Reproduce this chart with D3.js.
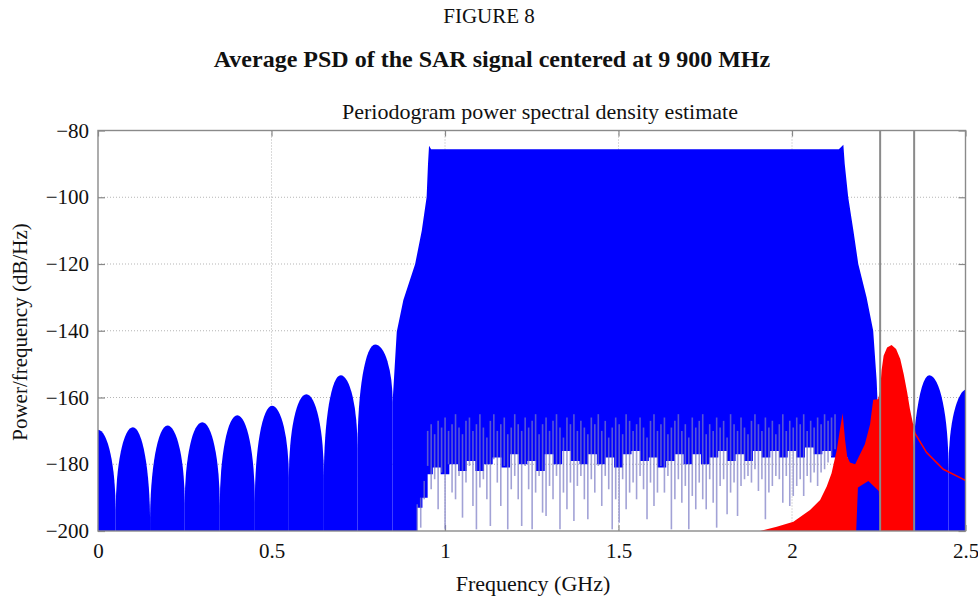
<!DOCTYPE html>
<html>
<head>
<meta charset="utf-8">
<script src="https://cdn.jsdelivr.net/npm/d3@7"></script>
<style>
  body { margin: 0; background: #fff; }
  text { font-family: "Liberation Serif", "Times New Roman", serif; fill: #111; }
</style>
</head>
<body>
<svg id="chart" width="978" height="599"></svg>
<script>
// axis ticks
const freqTicks = [0, 0.5, 1, 1.5, 2, 2.5]
const dbTicks = [-200, -180, -160, -140, -120, -100, -80]

// sidelobes left of the main band (null freqs, null depths, peak levels)
const lobeNullF = [-0.051, 0.051, 0.150, 0.250, 0.351, 0.452, 0.550, 0.651, 0.748, 0.849]
const lobeNullDb = [-194, -194.2, -197.5, -191.7, -192.4, -191.2, -184, -183.7, -175.2, -161.3]
const lobePeakDb = [-169.7, -168.9, -168.4, -167.4, -165.3, -162.5, -159, -153.3, -144.1]

// sidelobes right of the band
const rLobeNullF = [2.340, 2.451, 2.560]
const rLobeNullDb = [-200, -181.2, -186]
const rLobePeakDb = [-153.3, -157.5]

// main band outline (upper edge)
const mainF = [0.849, 0.855, 0.861, 0.880, 0.914, 0.933, 0.947, 0.951, 0.954, 0.960, 2.135, 2.148, 2.152, 2.162, 2.177, 2.191, 2.215, 2.234, 2.244, 2.249, 2.256]
const mainDb = [-161.3, -150.8, -140.3, -130.8, -120, -110, -100, -90, -84.6, -85.6, -85.6, -84.3, -90, -100, -110, -120, -130, -140, -155, -167.7, -200]

// lower edge of the solid blue in the band
const floorF = [0.849, 0.915, 0.925, 0.945, 0.955, 0.975,
  1.0, 1.025, 1.05, 1.075, 1.1, 1.125, 1.15, 1.175, 1.2, 1.225,
  1.25, 1.275, 1.3, 1.325, 1.35, 1.375, 1.4, 1.425, 1.45, 1.475,
  1.5, 1.525, 1.55, 1.575, 1.6, 1.625, 1.65, 1.675, 1.7, 1.725,
  1.75, 1.775, 1.8, 1.825, 1.85, 1.875, 1.9, 1.925, 1.95, 1.975,
  2.0, 2.025, 2.05, 2.075, 2.1, 2.125, 2.15, 2.17, 2.18, 2.256]
const floorDb = [-200, -200, -193, -190, -183, -181,
  -183, -180, -182, -179, -182, -180, -178, -181, -177, -180,
  -179, -182, -177, -180, -176, -179, -180, -177, -180, -178,
  -181, -177, -176, -179, -178, -181, -179, -177, -180, -177,
  -180, -178, -176, -179, -177, -179, -176, -178, -176, -178,
  -176, -178, -175, -177, -176, -178, -178, -180, -200, -200]

// noise spikes under the band: first and last spike freq, top and bottom of each
const spikeRange = [0.920, 2.124]
const spikeTop = [
  -192, -190, -185, -170, -168, -171, -167, -169, -166, -170, -168, -165, -169, -171, -167, -166, -170, -168, -165, -169,
  -172, -167, -165, -170, -168, -166, -171, -169, -165, -168, -170, -166, -169, -167, -165, -171, -168, -166, -170, -167,
  -165, -169, -172, -166, -168, -165, -170, -167, -169, -171, -166, -168, -165, -170, -167, -172, -169, -166, -168, -171,
  -165, -167, -170, -168, -166, -169, -172, -167, -165, -170, -168, -166, -171, -169, -167, -165, -170, -168, -172, -166,
  -169, -167, -165, -171, -168, -170, -166, -169, -167, -172, -165, -168, -170, -166, -169, -171, -167, -165, -168, -170,
  -166, -169, -167, -171, -168, -165, -170, -167, -169, -166, -168, -165, -170, -167, -169, -166, -168, -165, -167, -166, -165
]
const spikeDb = [
  -200, -199, -190.5, -180.5, -187.5, -184.5, -193.5, -182.5, -199.5, -180, -188.5, -190.5, -183.5, -196, -185.5, -180.5, -192.5, -199.5, -187, -184.5,
  -190.5, -198.5, -178.5, -185.5, -192.5, -180.5, -199.5, -187.5, -183.5, -190.5, -198.5, -180.5, -187.5, -199.5,
  -188.5, -183.5, -194.5, -195.5, -186.5, -190.5, -183.5, -199.5, -188.5, -193.5, -185.5, -197, -186.5, -183.5, -190.5, -196.5,
  -184.5, -188.5, -180.5, -192.5, -183.5, -187.5, -199.5, -190.5, -197.5, -184.5, -193.5, -188.5, -185.5, -190.5, -183.5, -187.5,
  -196.5, -185.5, -192.5, -188.5, -180.5,
  -188.5, -183.5, -199.5, -190.5, -184.5, -191.5, -186.5, -199.5, -189.5, -193.5, -185.5, -190.5, -193.5, -184.5, -191.5, -199,
  -186.5, -184.5, -195, -188.5, -185.5, -195.5, -186.5, -184.5, -183.5, -185.5, -181.5, -188, -184.5, -196.5, -188.5, -186.5, -183.5,
  -184.5, -191.5, -183.5, -192.5, -189.5, -186.5, -184.5, -189.5, -183.5, -185.5, -182.5, -186.5, -182.5, -181.5, -179.5, -177.5, -175.5
]

// red signal (upper edge, lower edge, then the thin tail)
const redF = [1.908, 1.956, 2.004, 2.052, 2.081, 2.100, 2.114, 2.129, 2.138, 2.146, 2.153, 2.159, 2.167, 2.182, 2.196, 2.210, 2.225, 2.234, 2.248, 2.254, 2.258, 2.264, 2.274, 2.287, 2.300, 2.312, 2.322, 2.332, 2.340, 2.349]
const redDb = [-200, -198.7, -197.2, -193.7, -190.7, -186.7, -182.7, -175.7, -169.7, -164.7, -172.7, -177.7, -179.5, -180, -177, -174, -168, -160.7, -160.5, -158, -152, -147.5, -145, -144.3, -145.5, -148.5, -153, -158.5, -163.5, -168]
const redBotF = [2.349, 2.255, 2.250, 2.220, 2.190, 2.185, 1.908]
const redBotDb = [-200, -200, -188, -185, -187, -200, -200]
const tailF = [2.349, 2.354, 2.388, 2.436, 2.484, 2.501]
const tailDb = [-168, -170.7, -176.5, -181.5, -184, -184.9]

// vertical marker lines
const markerF = [2.254, 2.352]

const svg = d3.select("#chart")
const pL = 98, pR = 965.5, pT = 130.5, pB = 531

const x = d3.scaleLinear().domain([0, 2.5]).range([pL, pR])
const y = d3.scaleLinear().domain([-200, -80]).range([pB, pT])

svg.append("defs").append("clipPath").attr("id", "plot")
  .append("rect").attr("x", pL).attr("y", pT).attr("width", pR - pL).attr("height", pB - pT)

// grid
const grid = svg.append("g").attr("stroke", "#b5b5b5").attr("stroke-dasharray", "1,2")
grid.selectAll(".gx").data(freqTicks.slice(1, -1)).join("line")
  .attr("x1", d => x(d)).attr("x2", d => x(d)).attr("y1", pT).attr("y2", pB)
grid.selectAll(".gy").data(dbTicks.slice(1, -1)).join("line")
  .attr("y1", d => y(d)).attr("y2", d => y(d)).attr("x1", pL).attr("x2", pR)

// axes, ticks pointing inward
const axisStyle = g => {
  g.select(".domain").remove()
  g.selectAll(".tick line").attr("stroke", "#888").attr("stroke-width", 1.2)
  g.selectAll("text").style("font-size", "21px").attr("fill", "#111")
}
svg.append("g").attr("transform", `translate(0,${pB})`)
  .call(d3.axisBottom(x).tickValues(freqTicks).tickFormat(d3.format("")).tickSize(-6).tickPadding(12))
  .call(axisStyle)
svg.append("g").attr("transform", `translate(${pL},0)`)
  .call(d3.axisLeft(y).tickValues(dbTicks).tickFormat(d3.format("")).tickSize(-7).tickPadding(9))
  .call(axisStyle)
svg.append("g").attr("transform", `translate(0,${pT})`)
  .call(d3.axisTop(x).tickValues(freqTicks).tickFormat("").tickSize(-6))
  .call(axisStyle)
svg.append("g").attr("transform", `translate(${pR},0)`)
  .call(d3.axisRight(y).tickValues(dbTicks).tickFormat("").tickSize(-7))
  .call(axisStyle)

const plot = svg.append("g").attr("clip-path", "url(#plot)")

// lobe as two quarter ellipses from null to peak to null
function lobePath(f0, f1, d0, d1, peak) {
  const x0 = x(f0), x1 = x(f1), xm = (x0 + x1) / 2
  const y0 = y(d0), y1 = y(d1), yp = y(peak)
  return `M${x0},${y(-200)}L${x0},${y0}` +
    `A${xm - x0},${y0 - yp} 0 0 1 ${xm},${yp}` +
    `A${x1 - xm},${y1 - yp} 0 0 1 ${x1},${y1}` +
    `L${x1},${y(-200)}Z`
}

const lobes = lobePeakDb.map((p, i) => [lobeNullF[i], lobeNullF[i + 1], lobeNullDb[i], lobeNullDb[i + 1], p])
  .concat(rLobePeakDb.map((p, i) => [rLobeNullF[i], rLobeNullF[i + 1], rLobeNullDb[i], rLobeNullDb[i + 1], p]))

plot.selectAll(".lobe").data(lobes).join("path")
  .attr("class", "lobe")
  .attr("d", d => lobePath(...d))
  .attr("fill", "#0000ff")

const line = d3.line().x(d => x(d[0])).y(d => y(d[1]))
const stepLine = d3.line().x(d => x(d[0])).y(d => y(d[1])).curve(d3.curveStep)

// main band: smooth upper edge, ragged stepped lower edge
const topPath = line(mainF.map((f, i) => [f, mainDb[i]]))
const floorPath = stepLine(floorF.map((f, i) => [f, floorDb[i]]).reverse())
plot.append("path")
  .attr("d", topPath + "L" + floorPath.slice(1) + "Z")
  .attr("fill", "#0000ff")

// noise spikes
const spikeX = d3.scalePoint().domain(d3.range(spikeDb.length)).range(spikeRange)
plot.append("g").selectAll("line").data(spikeDb).join("line")
  .attr("x1", (d, i) => x(spikeX(i))).attr("x2", (d, i) => x(spikeX(i)))
  .attr("y1", (d, i) => y(spikeTop[i])).attr("y2", d => y(d))
  .attr("stroke", "#7a7ac4").attr("stroke-opacity", 0.7).attr("stroke-width", 1.6)

// red signal
const redPts = redF.map((f, i) => [f, redDb[i]])
  .concat(redBotF.map((f, i) => [f, redBotDb[i]]))
plot.append("path")
  .attr("d", line(redPts) + "Z")
  .attr("fill", "#ff0000")
plot.append("path")
  .attr("d", line(tailF.map((f, i) => [f, tailDb[i]])))
  .attr("fill", "none").attr("stroke", "#ff0000").attr("stroke-width", 1.6)

// marker lines
plot.selectAll(".marker").data(markerF).join("line")
  .attr("x1", d => x(d)).attr("x2", d => x(d)).attr("y1", pT).attr("y2", pB)
  .attr("stroke", "#8a8a8a").attr("stroke-width", 2)

// frame
svg.append("rect").attr("x", pL).attr("y", pT).attr("width", pR - pL).attr("height", pB - pT)
  .attr("fill", "none").attr("stroke", "#8a8a8a").attr("stroke-width", 1.4)

// titles and labels
svg.append("text").attr("x", 489).attr("y", 23).attr("text-anchor", "middle")
  .style("font-size", "21px").text("FIGURE 8")
svg.append("text").attr("x", 492).attr("y", 67).attr("text-anchor", "middle")
  .style("font-size", "24px").style("font-weight", "bold")
  .text("Average PSD of the SAR signal centered at 9 900 MHz")
svg.append("text").attr("x", 540).attr("y", 119).attr("text-anchor", "middle")
  .style("font-size", "22px").text("Periodogram power spectral density estimate")
svg.append("text").attr("x", 533).attr("y", 591).attr("text-anchor", "middle")
  .style("font-size", "22px").text("Frequency (GHz)")
svg.append("text").attr("transform", "translate(27,332) rotate(-90)").attr("text-anchor", "middle")
  .style("font-size", "21px").text("Power/frequency (dB/Hz)")
</script>
</body>
</html>
